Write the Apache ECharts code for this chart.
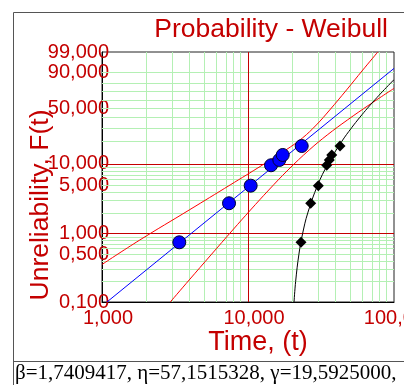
<!DOCTYPE html>
<html>
<head>
<meta charset="utf-8">
<script src="https://cdn.jsdelivr.net/npm/echarts@6/dist/echarts.min.js"></script>
<style>html,body{margin:0;padding:0;background:#fff}#c{width:404px;height:385px}</style>
</head>
<body>
<div id="c"></div>
<script>
// ---- data (time in axis units, unreliability in %) ----
const xTickValues = [1, 10, 100];
const xTickLabels = ['1,000', '10,000', '100,000'];
const yTickValues = [0.1, 0.5, 1, 5, 10, 50, 90, 99];
const yTickLabels = ['0,100', '0,500', '1,000', '5,000', '10,000', '50,000', '90,000', '99,000'];
const xMinorGrid = [2, 3, 4, 5, 6, 7, 8, 9, 20, 30, 40, 50, 60, 70, 80, 90];
const xMajorGrid = [10];
const yMinorGrid = [0.2, 0.3, 0.4, 0.5, 0.6, 0.7, 0.8, 0.9, 2, 3, 4, 5, 6, 7, 8, 9, 20, 30, 40, 50, 60, 70, 80, 90];
const yMajorGrid = [1, 10];

const pointTimes = [3.384, 7.413, 10.43, 14.38, 16.39, 17.29, 23.32];
const pointUnrel = [0.747, 2.76, 4.94, 9.59, 11.35, 13.3, 17.57];
const rawTimes = [23.07, 26.88, 30.30, 34.59, 36.06, 37.45, 42.67];
const rawUnrel = [0.747, 2.76, 4.94, 9.59, 11.35, 13.3, 17.57];

const fitLineTimes = [1.081, 100];
const fitLineUnrel = [0.1, 92.92];

const upperTimes = [1.0, 1.815, 3.956, 7.542, 12.57, 18.18, 23.62, 29.37, 36.28, 47.29, 61.14, 77.45];
const upperUnrel = [0.354, 0.807, 2.205, 5.054, 9.677, 15.54, 22.37, 32.47, 47.85, 72.15, 91.87, 99];
const lowerTimes = [2.936, 3.956, 5.570, 7.858, 10.40, 13.88, 18.79, 26.26, 34.87, 47.96, 67.43, 100];
const lowerUnrel = [0.1, 0.2101, 0.4874, 1.129, 2.205, 4.286, 8.239, 15.54, 24.43, 37.16, 53.73, 74.1];

const curveTimes = [20.67, 21.20, 22.32, 23.66, 25.67, 29.97, 35.28, 43.74, 51.20, 58.45, 65.89, 73.95, 83.17, 94.71, 100];
const curveUnrel = [0.1, 0.2, 0.5, 1, 2, 5, 10, 20, 30, 40, 50, 60, 70, 80, 83.67];

const paramText = 'β=1,7409417, η=57,1515328, γ=19,5925000,';

// ---- scale transforms (log10 time, Weibull probability) ----
const lx = t => Math.log10(t);
const wy = F => Math.log(-Math.log(1 - F / 100));
const pairs = (ts, fs) => ts.map((t, i) => [lx(t), wy(fs[i])]);

const RED = '#c40000';
const GREEN = '#b4f0b4';
const FONT = 'Liberation Sans';

function labelFor(values, labels, tf) {
  return v => {
    let best = 0, bd = Infinity;
    values.forEach((x, i) => { const d = Math.abs(tf(x) - v); if (d < bd) { bd = d; best = i; } });
    return labels[best];
  };
}

const gridLines = [];
xMinorGrid.forEach(v => gridLines.push({ xAxis: lx(v) }));
yMinorGrid.forEach(v => gridLines.push({ yAxis: wy(v) }));
const majorLines = [];
xMajorGrid.forEach(v => majorLines.push({ xAxis: lx(v) }));
yMajorGrid.forEach(v => majorLines.push({ yAxis: wy(v) }));

const chart = echarts.init(document.getElementById('c'), null, { renderer: 'canvas' });
chart.setOption({
  animation: false,
  backgroundColor: '#fff',
  title: {
    text: 'Probability - Weibull', right: 16, top: 16, padding: 0,
    textStyle: { color: RED, fontSize: 26.5, fontWeight: 'normal', fontFamily: FONT }
  },
  graphic: [
    { type: 'line', shape: { x1: 13.5, y1: 12.5, x2: 404, y2: 12.5 }, style: { stroke: '#555', lineWidth: 1 } },
    { type: 'line', shape: { x1: 13.5, y1: 12.5, x2: 13.5, y2: 385 }, style: { stroke: '#555', lineWidth: 1 } },
    { type: 'line', shape: { x1: 13.5, y1: 361.5, x2: 404, y2: 361.5 }, style: { stroke: '#555', lineWidth: 1 } },
    { type: 'text', left: 15, top: 363, style: { text: paramText, fill: '#000', font: '21px "Liberation Serif"' } }
  ],
  grid: { left: 102, top: 52, width: 292, height: 250, containLabel: false, outerBoundsMode: 'none',
    show: true, borderColor: '#222', borderWidth: 1, backgroundColor: 'transparent' },
  xAxis: {
    type: 'value', min: lx(1), max: lx(100),
    axisLine: { show: true, onZero: false, lineStyle: { color: '#000' } },
    axisTick: { show: false },
    splitLine: { show: false },
    axisLabel: {
      customValues: xTickValues.map(lx),
      formatter: labelFor(xTickValues, xTickLabels, lx),
      color: RED, fontSize: 20, fontFamily: FONT, margin: 6, padding: [0, 0, 0, 12]
    },
    name: 'Time, (t)', nameLocation: 'middle', nameGap: 27, nameMoveOverlap: false,
    nameTextStyle: { color: RED, fontSize: 27, fontFamily: FONT, padding: [0, 0, 0, 20] }
  },
  yAxis: {
    type: 'value', min: wy(0.1), max: wy(99),
    axisLine: { show: true, onZero: false, lineStyle: { color: '#000' } },
    axisTick: { show: false },
    splitLine: { show: false },
    axisLabel: {
      customValues: yTickValues.map(wy),
      formatter: labelFor(yTickValues, yTickLabels, wy),
      color: RED, fontSize: 20, fontFamily: FONT, margin: -7
    },
    name: 'Unreliability, F(t)', nameLocation: 'middle', nameGap: 48, nameRotate: 90, nameMoveOverlap: false,
    nameTextStyle: { color: RED, fontSize: 26.5, fontFamily: FONT, padding: [0, 56, 0, 0] }
  },
  series: [
    { type: 'line', data: [], silent: true, z: 1,
      markLine: { silent: true, z: 1, symbol: 'none', label: { show: false }, animation: false,
        lineStyle: { color: GREEN, width: 1, type: 'solid' }, data: gridLines } },
    { type: 'line', data: [], silent: true, z: 2,
      markLine: { silent: true, z: 2, symbol: 'none', label: { show: false }, animation: false,
        lineStyle: { color: RED, width: 1, type: 'solid' }, data: majorLines } },
    { type: 'line', data: pairs(upperTimes, upperUnrel), smooth: 0.4, showSymbol: false, z: 6,
      lineStyle: { color: '#ff0000', width: 1, type: 'solid' } },
    { type: 'line', data: pairs(lowerTimes, lowerUnrel), smooth: 0.4, showSymbol: false, z: 6,
      lineStyle: { color: '#ff0000', width: 1, type: 'solid' } },
    { type: 'line', data: pairs(fitLineTimes, fitLineUnrel), showSymbol: false, z: 7,
      lineStyle: { color: '#0000ff', width: 1, type: 'solid' } },
    { type: 'line', data: pairs(curveTimes, curveUnrel), smooth: 0.4, showSymbol: false, z: 7,
      lineStyle: { color: '#000', width: 1, type: 'solid' } },
    { type: 'scatter', data: pairs(pointTimes, pointUnrel), symbol: 'circle', symbolSize: 13, z: 8,
      itemStyle: { color: '#0000ff', borderColor: '#000033', borderWidth: 1, opacity: 1 } },
    { type: 'scatter', data: pairs(rawTimes, rawUnrel), symbol: 'diamond', symbolSize: [11, 11], z: 8,
      itemStyle: { color: '#000', opacity: 1 } }
  ]
});
</script>
</body>
</html>
